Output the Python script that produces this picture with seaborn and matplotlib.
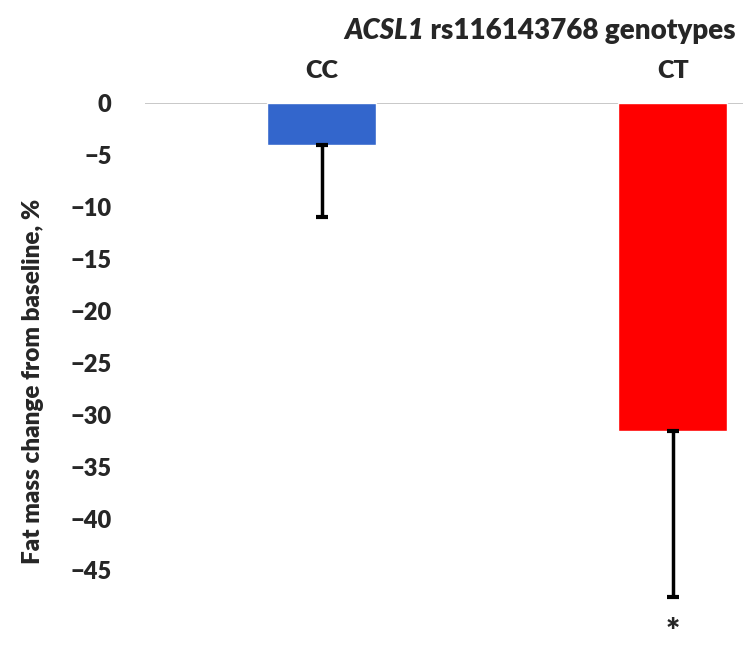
import numpy as np
import matplotlib
matplotlib.use('Agg')
import matplotlib.pyplot as plt
import seaborn as sns

# data
genotypes = ['CC', 'CT']
mean_change = [-4.0, -31.6]
sd_lower = [7.0, 16.0]
bar_colors = ['#3366CC', '#FF0000']
y_ticks = [0, -5, -10, -15, -20, -25, -30, -35, -40, -45]

sns.set_style('white')
plt.rcParams['font.family'] = ['Lato', 'DejaVu Sans']
W = 'heavy'

fig = plt.figure(figsize=(7.43, 6.49), dpi=100)
ax = fig.add_axes([0.195, 0.009, 0.805, 0.832])

sns.barplot(x=genotypes, y=mean_change, hue=genotypes, palette=bar_colors,
            width=0.31, legend=False, ax=ax, saturation=1)

# one-sided (downward) error bars
ax.errorbar(range(len(genotypes)), mean_change, yerr=[sd_lower, [0, 0]],
            fmt='none', ecolor='black', elinewidth=2.5, capsize=4, capthick=3)

ax.set_ylim(-52, 0)
ax.set_xlim(-0.504, 1.2)
ax.set_yticks(y_ticks)
ax.set_yticklabels([str(t).replace('-', '\u2212') for t in y_ticks],
                   fontsize=17, fontweight=W)
ax.xaxis.tick_top()
ax.set_xticks(range(len(genotypes)))
ax.set_xticklabels(genotypes, fontsize=18, fontweight=W)
ax.tick_params(axis='x', length=0, pad=15)
ax.tick_params(axis='y', length=0, pad=24)
for s in ['left', 'right', 'bottom', 'top']:
    ax.spines[s].set_visible(False)
ax.axhline(0, color='#BFBFBF', lw=1.2, zorder=0)
ax.set_xlabel('')
ax.set_ylabel('Fat mass change from baseline, %', fontsize=17.5, fontweight=W)
ax.yaxis.set_label_coords(-0.168, 0.485)

# significance mark
ax.text(1, -51.0, '*', ha='center', va='center', fontsize=24, fontweight=W,
        clip_on=False)

# title: italic gene name followed by upright text
t2 = fig.text(0.99, 0.953, ' rs116143768 genotypes', ha='right', va='center',
              fontsize=20, fontweight=W)
fig.canvas.draw()
bb = t2.get_window_extent()
x_left = bb.x0 / fig.bbox.width
fig.text(x_left, 0.953, 'ACSL1', ha='right', va='center', fontsize=20,
         fontweight=W, fontstyle='italic')

fig.savefig('out.png', dpi=100)
